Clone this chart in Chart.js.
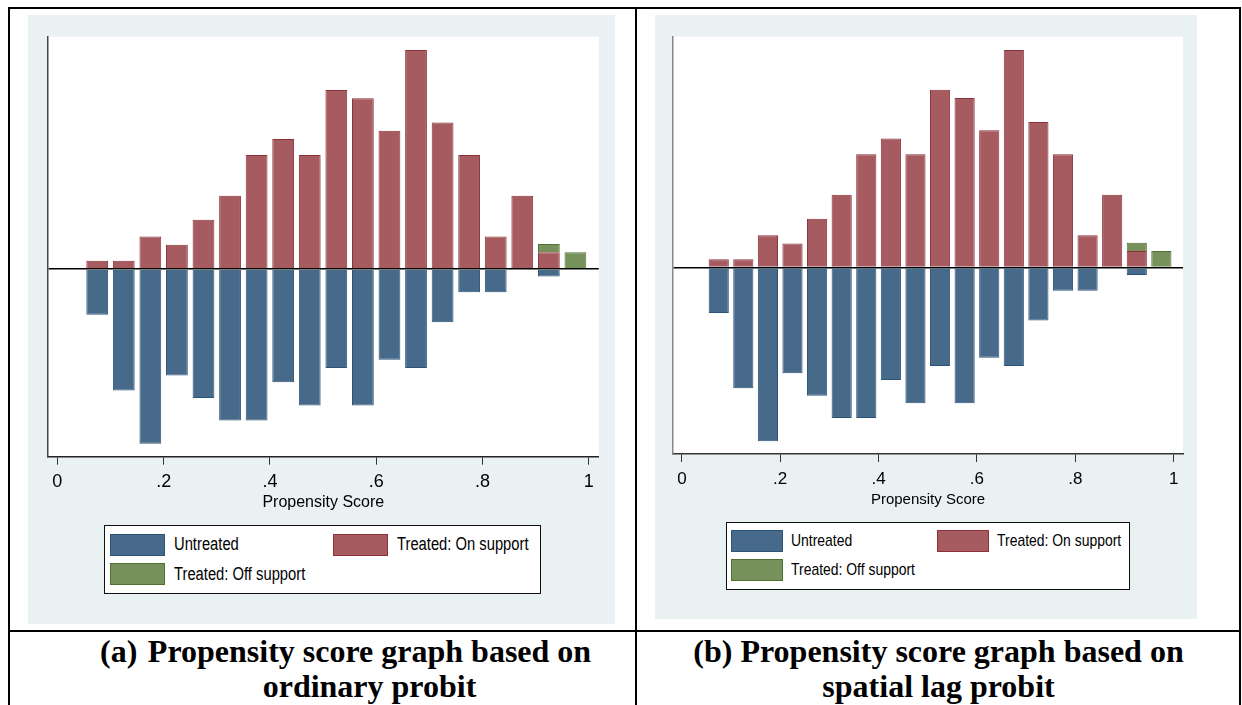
<!DOCTYPE html>
<html>
<head>
<meta charset="utf-8">
<script src="https://cdn.jsdelivr.net/npm/chart.js@4.4.1/dist/chart.umd.min.js"></script>
<style>
  body { margin: 0; background: #fff; }
  #page { position: relative; width: 1242px; height: 705px; overflow: hidden; background: #fff; }
  .rule { position: absolute; background: #000; }
  .panel { position: absolute; background: #e9f1f2; }
  canvas { position: absolute; }
  .legend { position: absolute; background: #fff; border: 1.5px solid #111; box-sizing: border-box; }
  .item { position: absolute; display: flex; align-items: center; white-space: nowrap; color: #000;
          font-family: 'Liberation Sans', Arial, sans-serif; }
  .item span { display: inline-block; transform: scaleX(0.82); transform-origin: left center; }
  .swatch { box-sizing: border-box; border: 1px solid; }
  .cap { position: absolute; font: bold 32px 'Liberation Serif', 'Times New Roman', serif; line-height: 35px;
         white-space: nowrap; color: #000; }
</style>
</head>
<body>
<div id="page">
  <!-- table lines -->
  <div class="rule" style="left:8px;top:7px;width:1233px;height:2px"></div>
  <div class="rule" style="left:8px;top:7px;width:2px;height:698px"></div>
  <div class="rule" style="left:1239px;top:7px;width:2px;height:698px"></div>
  <div class="rule" style="left:635px;top:7px;width:2px;height:698px"></div>
  <div class="rule" style="left:8px;top:630px;width:1233px;height:2px"></div>

  <div class="panel" style="left:28px;top:15px;width:587px;height:609px"></div>
  <div class="panel" style="left:655px;top:15px;width:542px;height:604px"></div>

  <canvas id="chartA" width="587" height="500" style="left:28px;top:15px"></canvas>
  <canvas id="chartB" width="542" height="497" style="left:655px;top:15px"></canvas>

  <div class="legend" id="legendA" style="left:104px;top:525px;width:437px;height:69px"></div>
  <div class="legend" id="legendB" style="left:726px;top:522px;width:404px;height:68px"></div>

  <!-- captions -->
  <div class="cap" style="left:100px;top:634px">(a)</div>
  <div class="cap" style="left:104px;top:634px;width:531px;text-align:center">Propensity score graph based on</div>
  <div class="cap" style="left:104px;top:669px;width:531px;text-align:center">ordinary probit</div>
  <div class="cap" style="left:637px;top:634px;width:603px;text-align:center">(b) Propensity score graph based on</div>
  <div class="cap" style="left:637px;top:669px;width:603px;text-align:center">spatial lag probit</div>
</div>

<script>
// bins of width .05, values are densities
const binMids = [0.075, 0.125, 0.175, 0.225, 0.275, 0.325, 0.375, 0.425, 0.475, 0.525,
                 0.575, 0.625, 0.675, 0.725, 0.775, 0.825, 0.875, 0.925, 0.975];
const untreated = [-0.55, -1.46, -2.10, -1.28, -1.55, -1.82, -1.82, -1.36, -1.64, -1.19,
                   -1.64, -1.09, -1.19, -0.64, -0.28, -0.28, null, -0.09, null];
const treatedOn = [0.10, 0.10, 0.39, 0.29, 0.59, 0.88, 1.37, 1.56, 1.37, 2.15,
                   2.05, 1.66, 2.63, 1.76, 1.37, 0.39, 0.88, 0.20, null];
const treatedOff = [null, null, null, null, null, null, null, null, null, null,
                    null, null, null, null, null, null, null, 0.10, 0.20];
const seriesNames = ['Untreated', 'Treated: On support', 'Treated: Off support'];
const tickValues = [0, 0.2, 0.4, 0.6, 0.8, 1];
const tickLabels = ['0', '.2', '.4', '.6', '.8', '1'];
const xTitle = 'Propensity Score';

const FONT = "'Liberation Sans', Arial, sans-serif";
const fills = ['#476a8a', '#a55b60', '#76925a'];
const lines = ['#2d5378', '#8c3139', '#4f6f35'];

// white plot region
const whitePlot = {
  id: 'whitePlot',
  beforeDraw(c) {
    const a = c.chartArea;
    c.ctx.save();
    c.ctx.fillStyle = '#fff';
    c.ctx.fillRect(a.left, a.top, a.right - a.left, a.bottom - a.top);
    c.ctx.restore();
  }
};

function toPts(arr) {
  return binMids.map((x, i) => ({ x: x, y: arr[i] }));
}

function makeChart(id, legendId, cfg) {
  let chart = new Chart(document.getElementById(id), {
    type: 'bar',
    data: {
      datasets: [untreated, treatedOn, treatedOff].map((arr, i) => ({
        label: seriesNames[i],
        data: toPts(arr),
        backgroundColor: fills[i],
        borderColor: lines[i]
      }))
    },
    options: {
      responsive: false,
      animation: false,
      devicePixelRatio: 1,
      layout: { padding: cfg.pad },
      datasets: { bar: { categoryPercentage: 1, barPercentage: 0.82, borderWidth: 1, borderSkipped: 'start' } },
      plugins: { legend: { display: false }, tooltip: { enabled: false } },
      scales: {
        x: {
          type: 'linear', stacked: true, offset: false, min: -0.018, max: 1.019,
          afterBuildTicks: s => { s.ticks = tickValues.map(v => ({ value: v })); },
          afterFit: s => { s.height = cfg.axisH; },
          grid: { offset: false, drawOnChartArea: false, drawTicks: true, tickLength: 8, color: '#333', lineWidth: 1 },
          border: { display: true, color: cfg.xLine, width: 1.5 },
          ticks: {
            autoSkip: false, maxRotation: 0, padding: cfg.tickPad, color: '#000',
            font: { family: FONT, size: cfg.fs },
            callback: (v, i) => tickLabels[i]
          },
          title: { display: true, text: xTitle, color: '#000', font: { family: FONT, size: cfg.titleFs },
                   padding: { top: 0, bottom: cfg.titlePad } }
        },
        y: {
          stacked: true, min: -2.255, max: 2.79, z: 1,
          afterBuildTicks: s => { s.ticks = [{ value: 0 }]; },
          afterFit: s => { s.width = 0; },
          grid: { color: '#000', lineWidth: 1.5, drawTicks: false },
          border: { display: true, color: cfg.yLine, width: 1.5 },
          ticks: { display: false }
        }
      }
    },
    plugins: [whitePlot]
  });

  // legend box built from the chart's datasets
  let box = document.getElementById(legendId);
  chart.data.datasets.forEach((ds, i) => {
    let pos = cfg.slots[i];
    let item = document.createElement('div');
    item.className = 'item';
    item.style.left = pos[0] + 'px';
    item.style.top = pos[1] + 'px';
    item.style.fontSize = cfg.fs + 'px';
    item.style.gap = cfg.gap + 'px';
    let sw = document.createElement('div');
    sw.className = 'swatch';
    sw.style.width = cfg.sw[0] + 'px';
    sw.style.height = cfg.sw[1] + 'px';
    sw.style.background = ds.backgroundColor;
    sw.style.borderColor = ds.borderColor;
    let txt = document.createElement('span');
    txt.textContent = ds.label;
    item.appendChild(sw);
    item.appendChild(txt);
    box.appendChild(item);
  });
  return chart;
}

makeChart('chartA', 'legendA', {
  pad: { left: 19.8, right: 16.2, top: 21.7, bottom: 0 },
  axisH: 58.3, tickPad: 7, titlePad: 3, fs: 18, titleFs: 16,
  xLine: '#222', yLine: '#444',
  slots: [[5, 7.5], [228, 7.5], [5, 37]], sw: [55, 22], gap: 9
});

makeChart('chartB', 'legendB', {
  pad: { left: 18, right: 14, top: 21.7, bottom: 0 },
  axisH: 58, tickPad: 7, titlePad: 3, fs: 17, titleFs: 15,
  xLine: '#333', yLine: '#888',
  slots: [[4, 7], [210, 7], [4, 36]], sw: [52, 22], gap: 8
});
</script>
</body>
</html>
